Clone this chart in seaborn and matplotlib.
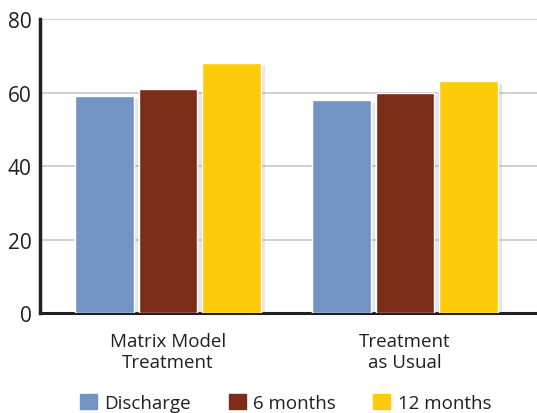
import matplotlib
matplotlib.use("Agg")
import matplotlib.pyplot as plt
import matplotlib.patheffects as pe
import pandas as pd
import seaborn as sns

# Data
groups = ["Matrix Model\nTreatment", "Treatment\nas Usual"]
timepoints = ["Discharge", "6 months", "12 months"]
discharge = [59, 58]
six_months = [61, 60]
twelve_months = [68, 63]
colors = ["#7393C4", "#7B2D17", "#FDCB0A"]

df = pd.DataFrame({
    "group": groups * 3,
    "time": [timepoints[0]] * 2 + [timepoints[1]] * 2 + [timepoints[2]] * 2,
    "value": discharge + six_months + twelve_months,
})

sns.set_style("white")
plt.rcParams["font.family"] = ["Open Sans", "DejaVu Sans"]

fig = plt.figure(figsize=(5.37, 4.14), dpi=100)
ax = fig.add_axes([0.0745, 0.2415, 0.9255, 0.7102])

sns.barplot(data=df, x="group", y="value", hue="time", hue_order=timepoints,
            palette=colors, width=0.8, gap=0.07, saturation=1, ax=ax,
            legend=False, zorder=3)

for patch in ax.patches:
    patch.set_path_effects([pe.SimplePatchShadow(offset=(3, -2), shadow_rgbFace="gray", alpha=0.2),
                            pe.Normal()])

ax.set_ylim(0, 80)
ax.set_xlim(-0.54, 1.557)
ax.set_yticks([0, 20, 40, 60, 80])
ax.yaxis.grid(True, color="#c8c8c8", linewidth=1.2, zorder=0)
ax.set_axisbelow(True)

for side in ["top", "right"]:
    ax.spines[side].set_visible(False)
ax.spines["left"].set_linewidth(2.5)
ax.spines["left"].set_color("#231f20")
ax.spines["bottom"].set_linewidth(2.2)
ax.spines["bottom"].set_color("#231f20")

ax.tick_params(axis="both", length=0)
ax.tick_params(axis="y", labelsize=15, pad=6, colors="#231f20")
ax.tick_params(axis="x", labelsize=13.5, pad=14, colors="#231f20")
for lbl in ax.get_xticklabels():
    lbl.set_linespacing(1.15)
ax.set_xlabel("")
ax.set_ylabel("")

handles = [plt.Rectangle((0, 0), 1, 1, color=c) for c in colors]
fig.legend(handles, timepoints, loc="lower center", bbox_to_anchor=(0.532, -0.038),
           ncol=3, frameon=False, fontsize=13.5, handlelength=0.9, handleheight=0.9,
           handletextpad=0.4, columnspacing=2.0, labelcolor="#231f20")

fig.savefig("out.png", dpi=100)
